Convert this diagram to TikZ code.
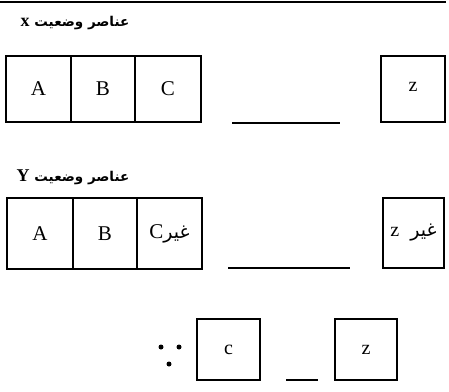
\documentclass[tikz,border=0pt]{standalone}
\usepackage{fontspec}
\setmainfont{Liberation Serif}
\newfontfamily\arabicfont[Script=Arabic]{DejaVu Sans}
\TeXXeTstate=1
\begin{document}
\begin{tikzpicture}[x=1pt,y=-1pt,
  cell/.style={draw, line width=1.7pt, inner sep=0pt, font=\fontsize{21}{24}\selectfont},
  small/.style={draw, line width=1.7pt, inner sep=0pt, font=\fontsize{20}{22}\selectfont},
  title/.style={inner sep=0pt, font=\arabicfont\bfseries\fontsize{13.5}{17}\selectfont},
  blank/.style={line width=1.7pt},
  dot/.style={circle, fill, inner sep=0pt, minimum size=5pt}]
\useasboundingbox (0,0) rectangle (449,391);
% top rule
\coordinate (r1) at (0,1.5);
\coordinate (r2) at (446,1.5);
\draw[line width=2pt] (r1) -- (r2);
% row 1
\node[title] (t1) at (75,23) {\beginR عناصر وضعیت {\rmfamily\fontsize{18}{20}\selectfont x}\endR};
\node[cell, minimum width=65pt, minimum height=66pt] (a1) at (38.5,89) {A};
\node[cell, minimum width=64pt, minimum height=66pt] (b1) at (103,89) {B};
\node[cell, minimum width=66pt, minimum height=66pt] (c1) at (168,89) {C};
\coordinate (l1a) at (232,123);
\coordinate (l1b) at (340,123);
\draw[blank] (l1a) -- (l1b);
\node[small, minimum width=64pt, minimum height=66pt] (z1) at (413,89) {\raisebox{4pt}{z}};
% row 2
\node[title] (t2) at (73,177) {\beginR عناصر وضعیت {\rmfamily\fontsize{18}{20}\selectfont Y}\endR};
\node[cell, minimum width=66pt, minimum height=71pt] (a2) at (40,233.5) {A};
\node[cell, minimum width=64pt, minimum height=71pt] (b2) at (105,233.5) {B};
\node[cell, minimum width=65pt, minimum height=71pt] (c2) at (169.5,233.5) {C\arabicfont\fontsize{19}{22}\selectfont\beginR غیر\endR};
\coordinate (l2a) at (228,268);
\coordinate (l2b) at (350,268);
\draw[blank] (l2a) -- (l2b);
\node[small, minimum width=61pt, minimum height=70pt] (z2) at (413.5,233) {z\hspace{11pt}{\arabicfont\fontsize{19}{22}\selectfont\beginR غیر\endR}};
% row 3
\node[dot] (d1) at (161,347) {};
\node[dot] (d2) at (179,347) {};
\node[dot] (d3) at (169,364) {};
\node[small, minimum width=63pt, minimum height=61pt] (c3) at (228.5,349.5) {c};
\coordinate (l3a) at (286,380);
\coordinate (l3b) at (318,380);
\draw[blank] (l3a) -- (l3b);
\node[small, minimum width=62pt, minimum height=61pt] (z3) at (366,349.5) {z};
\end{tikzpicture}
\end{document}
